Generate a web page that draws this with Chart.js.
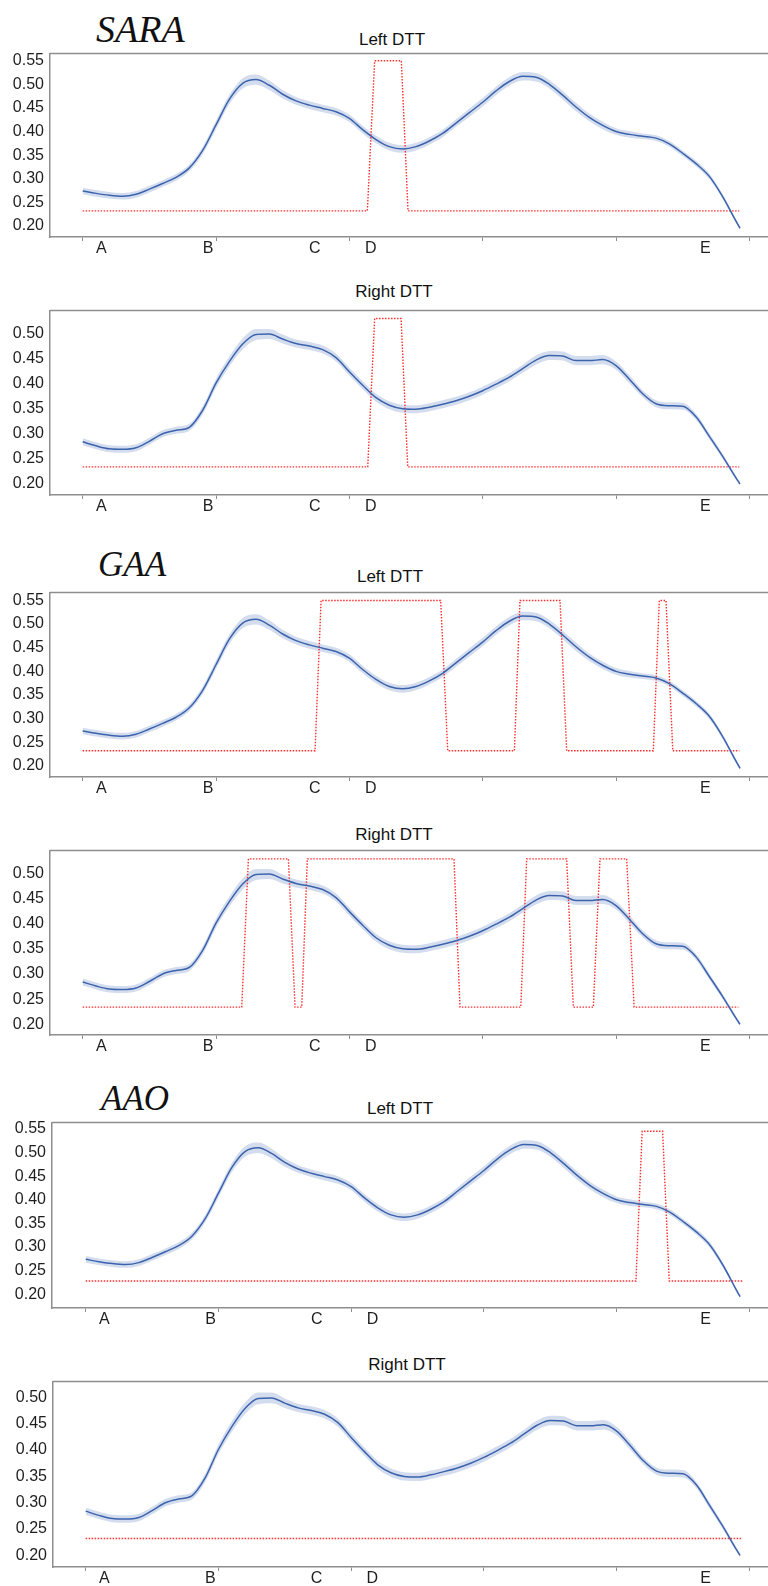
<!DOCTYPE html>
<html lang="en">
<head>
<meta charset="UTF-8" />
<title>DTT curves</title>
<script src="https://cdn.jsdelivr.net/npm/chart.js"></script>
<style>
  body { margin: 0; background: #fff; }
  #page { position: relative; width: 768px; height: 1586px; overflow: hidden; background: #fff; }
  .grupo { position: absolute; font-family: "Liberation Serif", "Times New Roman", serif; font-style: italic; line-height: 1; color: #111; white-space: nowrap; }
  .titulo { position: absolute; font-family: "Liberation Sans", Arial, sans-serif; line-height: 1; color: #111; white-space: nowrap; transform: translateX(-50%); }
  canvas { position: absolute; left: 0; }
</style>
</head>
<body>
<div id="page">
  <div class="grupo" style="left:96px; top:10px; font-size:38px;">SARA</div>
  <div class="grupo" style="left:98px; top:547px; font-size:35px;">GAA</div>
  <div class="grupo" style="left:101px; top:1081px; font-size:35px;">AAO</div>
</div>

<script>
  // sample positions along the cycle
  const xs = [0, 10, 20, 30, 40, 50, 60, 70, 80, 90,
              100, 110, 120, 130, 140, 150, 160, 170, 180, 190,
              200, 210, 220, 230, 240, 250, 260, 270, 280, 290,
              300, 310, 320, 330, 340, 350, 360, 370, 380, 390,
              400, 410, 420, 430, 440, 450, 460, 470, 480, 490, 493];

  // Left DTT mean curve (same in the three groups)
  const leftMean = [0.274, 0.269, 0.265, 0.263, 0.267, 0.278, 0.290, 0.303, 0.323, 0.360,
                    0.414, 0.468, 0.502, 0.510, 0.498, 0.479, 0.465, 0.456, 0.449, 0.442,
                    0.428, 0.404, 0.383, 0.368, 0.363, 0.368, 0.380, 0.396, 0.418, 0.440,
                    0.462, 0.486, 0.506, 0.517, 0.515, 0.500, 0.477, 0.452, 0.430, 0.413,
                    0.400, 0.394, 0.390, 0.386, 0.374, 0.354, 0.332, 0.305, 0.262, 0.210, 0.195];
  const leftCI = [0.007, 0.007, 0.007, 0.007, 0.007, 0.007, 0.007, 0.007, 0.007, 0.008,
                  0.009, 0.010, 0.011, 0.011, 0.010, 0.009, 0.008, 0.008, 0.008, 0.008,
                  0.008, 0.008, 0.008, 0.008, 0.008, 0.008, 0.008, 0.008, 0.008, 0.009,
                  0.009, 0.009, 0.009, 0.009, 0.009, 0.009, 0.009, 0.009, 0.008, 0.008,
                  0.007, 0.007, 0.006, 0.006, 0.006, 0.006, 0.006, 0.006, 0.005, 0.004, 0.003];

  // Right DTT mean curve
  const rightMean = [0.284, 0.276, 0.270, 0.269, 0.272, 0.285, 0.300, 0.307, 0.313, 0.347,
                     0.401, 0.444, 0.479, 0.498, 0.499, 0.489, 0.480, 0.475, 0.468, 0.452,
                     0.424, 0.397, 0.372, 0.357, 0.350, 0.349, 0.353, 0.359, 0.366, 0.375,
                     0.386, 0.399, 0.413, 0.430, 0.447, 0.456, 0.455, 0.446, 0.446, 0.448,
                     0.436, 0.409, 0.380, 0.360, 0.356, 0.355, 0.334, 0.295, 0.255, 0.212, 0.200];
  const rightCI = [0.007, 0.007, 0.007, 0.007, 0.007, 0.007, 0.007, 0.007, 0.007, 0.008,
                   0.009, 0.010, 0.011, 0.011, 0.010, 0.009, 0.008, 0.008, 0.008, 0.008,
                   0.008, 0.008, 0.008, 0.008, 0.008, 0.008, 0.008, 0.008, 0.008, 0.008,
                   0.008, 0.008, 0.008, 0.008, 0.009, 0.009, 0.009, 0.009, 0.009, 0.009,
                   0.008, 0.008, 0.007, 0.007, 0.007, 0.007, 0.006, 0.006, 0.005, 0.004, 0.003];

  // red indicator steps, one per panel
  const saraLeftStepX  = [0, 213.5, 219, 239, 244, 492.5];
  const saraLeftStepY  = [0.232, 0.232, 0.550, 0.550, 0.232, 0.232];
  const saraRightStepX = [0, 213.8, 219, 238.8, 243.8, 492.5];
  const saraRightStepY = [0.234, 0.234, 0.530, 0.530, 0.234, 0.234];
  const gaaLeftStepX   = [0, 174.3, 178.8, 268.5, 273.8, 323.8, 328, 358, 363, 428, 432.5, 437.5, 442.6, 492.5];
  const gaaLeftStepY   = [0.232, 0.232, 0.550, 0.550, 0.232, 0.232, 0.550, 0.550, 0.232, 0.232, 0.550, 0.550, 0.232, 0.232];
  const gaaRightStepX  = [0, 119.3, 124.3, 154.3, 159.3, 164.3, 168.5, 278.5, 283, 328.6, 333, 363, 368, 383, 388, 408, 413.6, 491.8];
  const gaaRightStepY  = [0.234, 0.234, 0.529, 0.529, 0.234, 0.234, 0.529, 0.529, 0.234, 0.234, 0.529, 0.529, 0.234, 0.234, 0.529, 0.529, 0.234, 0.234];
  const aaoLeftStepX   = [0, 414.5, 419.2, 434.6, 439.6, 494.9];
  const aaoLeftStepY   = [0.228, 0.228, 0.545, 0.545, 0.228, 0.228];
  const aaoRightStepX  = [0, 494];
  const aaoRightStepY  = [0.232, 0.232];

  // axis ticks and event labels
  const xTickMarks = [0, 100, 200, 300, 400, 500];
  const eventPos = [14, 94, 174, 216, 467];
  const eventLabels = ['A', 'B', 'C', 'D', 'E'];
  const yTicks = [0.20, 0.25, 0.30, 0.35, 0.40, 0.45, 0.50, 0.55];

  const AXIS = '#8e8e8e';
  const TEXT = '#1e1e1e';
  const BLUE = '#3c63ad';
  const BAND = 'rgba(76, 114, 186, 0.24)';
  const RED = 'rgba(255, 35, 35, 0.95)';
  const PAD_TOP = 12;
  const X_H = 26;
  const FONT = '"Liberation Sans", Arial, sans-serif';

  // layout of the six panels (pixels / axis ranges)
  const panels = [
    { title: 'Left DTT',  titleX: 392, titleTop: 30.6,  top: 50,   bottom: 237,  left: 50, xMin: -24.5, xMax: 514, yMin: 0.1766, yMax: 0.5651, mean: leftMean,  ci: leftCI,  sx: saraLeftStepX,  sy: saraLeftStepY },
    { title: 'Right DTT', titleX: 394, titleTop: 283,   top: 307,  bottom: 495,  left: 50, xMin: -24.5, xMax: 514, yMin: 0.1779, yMax: 0.5458, mean: rightMean, ci: rightCI, sx: saraRightStepX, sy: saraRightStepY },
    { title: 'Left DTT',  titleX: 390, titleTop: 568,   top: 589,  bottom: 777,  left: 50, xMin: -24.5, xMax: 514, yMin: 0.1766, yMax: 0.5666, mean: leftMean,  ci: leftCI,  sx: gaaLeftStepX,   sy: gaaLeftStepY },
    { title: 'Right DTT', titleX: 394, titleTop: 825.5, top: 847,  bottom: 1035, left: 50, xMin: -24.5, xMax: 514, yMin: 0.1786, yMax: 0.5454, mean: rightMean, ci: rightCI, sx: gaaRightStepX,  sy: gaaRightStepY },
    { title: 'Left DTT',  titleX: 400, titleTop: 1099.5,top: 1119, bottom: 1308, left: 52, xMin: -25.4, xMax: 514, yMin: 0.1710, yMax: 0.5633, mean: leftMean,  ci: leftCI,  sx: aaoLeftStepX,   sy: aaoLeftStepY },
    { title: 'Right DTT', titleX: 407, titleTop: 1356,  top: 1378, bottom: 1567, left: 53, xMin: -24.6, xMax: 514, yMin: 0.1780, yMax: 0.5299, mean: rightMean, ci: rightCI, sx: aaoRightStepX,  sy: aaoRightStepY }
  ];

  // top line of the frame
  const bordaTopo = {
    id: 'bordaTopo',
    afterDraw(chart) {
      const { ctx, chartArea: a } = chart;
      ctx.save();
      ctx.strokeStyle = AXIS;
      ctx.lineWidth = 1.5;
      ctx.beginPath();
      ctx.moveTo(a.left, a.top);
      ctx.lineTo(a.right, a.top);
      ctx.stroke();
      ctx.restore();
    }
  };

  const page = document.getElementById('page');
  const allXTicks = xTickMarks.concat(eventPos).sort((a, b) => a - b);

  panels.forEach(function (p) {
    const t = document.createElement('div');
    t.className = 'titulo';
    t.style.left = p.titleX + 'px';
    t.style.top = p.titleTop + 'px';
    t.style.fontSize = '17px';
    t.textContent = p.title;
    page.appendChild(t);

    const canvas = document.createElement('canvas');
    canvas.width = 768;
    canvas.height = (p.bottom - p.top) + PAD_TOP + X_H;
    canvas.style.top = (p.top - PAD_TOP) + 'px';
    page.appendChild(canvas);

    const meanPts = xs.map((x, i) => ({ x: x, y: p.mean[i] }));
    const upperPts = xs.map((x, i) => ({ x: x, y: p.mean[i] + p.ci[i] }));
    const lowerPts = xs.map((x, i) => ({ x: x, y: p.mean[i] - p.ci[i] }));
    const stepPts = p.sx.map((x, i) => ({ x: x, y: p.sy[i] }));

    new Chart(canvas, {
      type: 'line',
      data: {
        datasets: [
          { data: meanPts, borderColor: BLUE, borderWidth: 1.5, pointRadius: 0, fill: false, cubicInterpolationMode: 'monotone' },
          { data: stepPts, borderColor: RED, borderWidth: 1.4, borderDash: [1.5, 1.5], pointRadius: 0, fill: false, tension: 0 },
          { data: upperPts, borderWidth: 0, borderColor: 'rgba(0,0,0,0)', pointRadius: 0, fill: '+1', backgroundColor: BAND, cubicInterpolationMode: 'monotone' },
          { data: lowerPts, borderWidth: 0, borderColor: 'rgba(0,0,0,0)', pointRadius: 0, fill: false, cubicInterpolationMode: 'monotone' }
        ]
      },
      options: {
        responsive: false,
        animation: false,
        events: [],
        layout: { padding: { top: PAD_TOP, right: 0, bottom: 0, left: 0 } },
        plugins: { legend: { display: false }, tooltip: { enabled: false }, title: { display: false } },
        scales: {
          x: {
            type: 'linear',
            min: p.xMin,
            max: p.xMax,
            afterBuildTicks: function (s) { s.ticks = allXTicks.map(v => ({ value: v })); },
            afterFit: function (s) { s.height = X_H; },
            grid: {
              display: true,
              drawOnChartArea: false,
              drawTicks: true,
              tickLength: 4,
              tickColor: ctx => (eventPos.includes(ctx.tick && ctx.tick.value) ? 'rgba(0,0,0,0)' : AXIS)
            },
            border: { display: true, color: AXIS, width: 1.5 },
            ticks: {
              autoSkip: false,
              maxRotation: 0,
              padding: -2,
              color: TEXT,
              font: { family: FONT, size: 16 },
              callback: function (value) {
                const i = eventPos.indexOf(value);
                return i >= 0 ? eventLabels[i] : '';
              }
            }
          },
          y: {
            min: p.yMin,
            max: p.yMax,
            afterBuildTicks: function (s) { s.ticks = yTicks.filter(v => v >= s.min && v <= s.max).map(v => ({ value: v })); },
            afterFit: function (s) { s.width = p.left; },
            grid: { display: false, drawTicks: false },
            border: { display: true, color: AXIS, width: 1.5 },
            ticks: {
              padding: 6,
              color: TEXT,
              font: { family: FONT, size: 16 },
              callback: v => v.toFixed(2)
            }
          }
        }
      },
      plugins: [bordaTopo]
    });
  });
</script>
</body>
</html>
